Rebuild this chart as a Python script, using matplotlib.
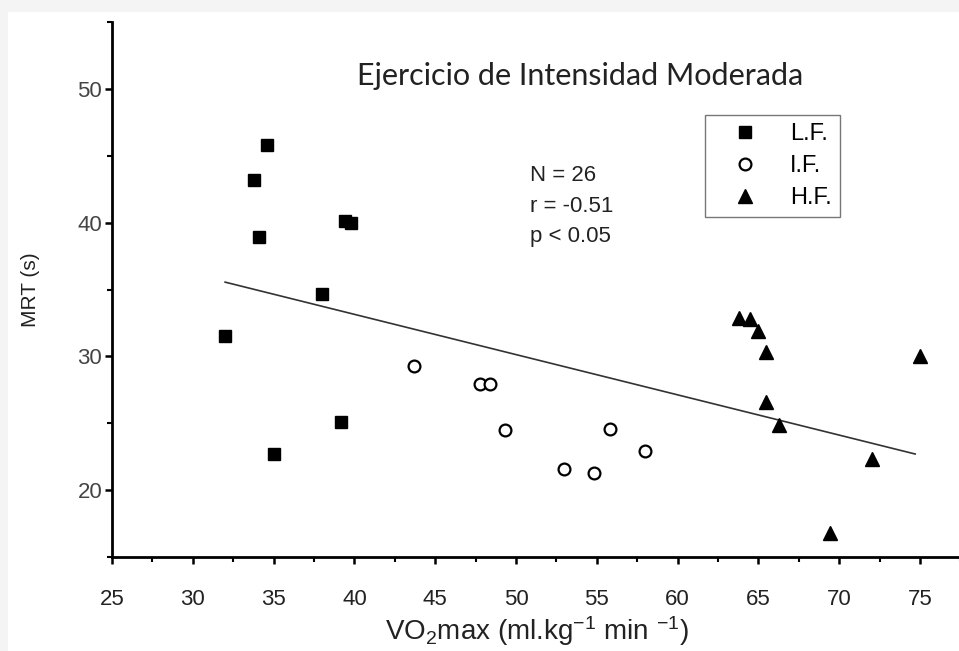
import matplotlib
matplotlib.use("Agg")
import matplotlib.pyplot as plt
from matplotlib.patches import Rectangle
from matplotlib.ticker import MultipleLocator

plt.rcParams['font.family'] = ['Liberation Sans', 'DejaVu Sans']
plt.rcParams['mathtext.fontset'] = 'custom'
plt.rcParams['mathtext.rm'] = 'Liberation Sans'
plt.rcParams['mathtext.it'] = 'Liberation Sans:italic'

# L.F. group (squares)
lf_x = [34.6, 33.8, 34.1, 39.4, 39.8, 38.0, 32.0, 39.2, 35.0]
lf_y = [45.8, 43.2, 38.9, 40.1, 40.0, 34.7, 31.5, 25.1, 22.7]

# I.F. group (open circles)
if_x = [43.7, 47.8, 48.4, 49.3, 55.8, 53.0, 54.8, 58.0]
if_y = [29.3, 27.9, 27.9, 24.5, 24.6, 21.6, 21.3, 22.9]

# H.F. group (triangles)
hf_x = [63.8, 64.5, 65.0, 65.5, 75.0, 65.5, 66.3, 72.0, 69.4]
hf_y = [32.9, 32.8, 31.9, 30.3, 30.0, 26.6, 24.9, 22.3, 16.8]

# regression line end points
fit_x = [32.0, 74.7]
fit_y = [35.55, 22.7]

fig = plt.figure(figsize=(9.59, 6.51), dpi=100, facecolor='#f4f4f4')
# white panel behind the plot
fig.patches.append(Rectangle((8 / 959, 0), 1, (651 - 12) / 651,
                             transform=fig.transFigure, facecolor='white',
                             edgecolor='none', zorder=-10))

ax = fig.add_axes([112 / 959, (651 - 557) / 651, 850 / 959, 535 / 651])
ax.set_facecolor('none')

ax.plot(fit_x, fit_y, color='#333333', linewidth=1.2, zorder=2)
ax.plot(lf_x, lf_y, 's', color='black', markersize=8.5, label='L.F.', zorder=3)
ax.plot(if_x, if_y, 'o', markerfacecolor='white', markeredgecolor='black',
        markeredgewidth=1.6, markersize=8.5, label='I.F.', zorder=3)
ax.plot(hf_x, hf_y, '^', color='black', markersize=10, label='H.F.', zorder=3)

ax.set_xlim(25, 25 + 850 / 16.16)
ax.set_ylim(15, 55)
ax.xaxis.set_major_locator(MultipleLocator(5))
ax.xaxis.set_minor_locator(MultipleLocator(2.5))
ax.yaxis.set_major_locator(MultipleLocator(10))
ax.yaxis.set_minor_locator(MultipleLocator(5))
ax.set_yticks([20, 30, 40, 50])

for s in ['top', 'right']:
    ax.spines[s].set_visible(False)
for s in ['left', 'bottom']:
    ax.spines[s].set_linewidth(2)
ax.tick_params(which='major', direction='out', length=5, width=1.8,
               labelsize=16)
ax.tick_params(which='minor', direction='out', length=3.5, width=1.5)
ax.tick_params(axis='x', which='major', pad=18, labelcolor='#222222')
ax.tick_params(axis='y', which='major', pad=2, labelcolor='#444444')

ax.set_xlabel('VO$_2$max (ml.kg$^{-1}$ min $^{-1}$)', fontsize=20, labelpad=3,
              color='#222222')
ax.set_ylabel('MRT (s)', fontsize=15, labelpad=27, color='#222222')

fig.text(580 / 959, 1 - 76 / 651, 'Ejercicio de Intensidad Moderada',
         fontsize=22, family=['Lato', 'DejaVu Sans'], ha='center', va='center',
         color='#222222')
fig.text(530 / 959, 1 - 206 / 651, 'N = 26\nr = -0.51\np < 0.05',
         fontsize=16, ha='left', va='center', linespacing=1.6, color='#222222')

leg = ax.legend(loc='upper left', bbox_to_anchor=(705 / 959, 1 - 115 / 651),
                bbox_transform=fig.transFigure, frameon=True, fancybox=False,
                edgecolor='#555555', fontsize=17, handletextpad=0.55,
                labelspacing=0.42, borderpad=0.35, handlelength=2.7,
                borderaxespad=0)
leg.get_frame().set_linewidth(1.0)

fig.savefig('out.png', dpi=100, facecolor=fig.get_facecolor())
